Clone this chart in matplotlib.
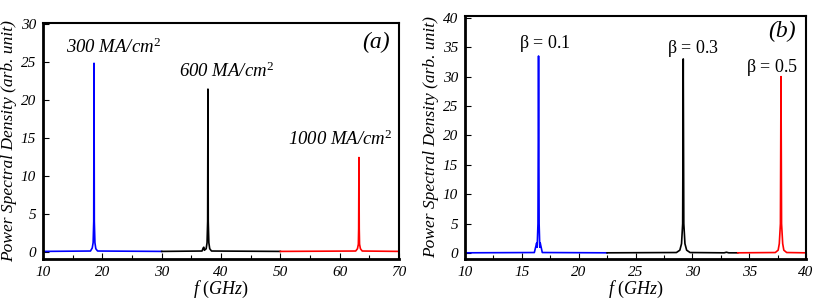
import matplotlib
matplotlib.use("Agg")
import matplotlib.pyplot as plt
from matplotlib.ticker import MultipleLocator

plt.rcParams['font.family'] = ['Liberation Serif', 'DejaVu Serif']
plt.rcParams['mathtext.fontset'] = 'custom'
plt.rcParams['mathtext.it'] = 'Liberation Serif:italic'
plt.rcParams['mathtext.rm'] = 'Liberation Serif'

# panel (a): current density series
a_blue_f = [10, 18.0, 18.3, 18.45, 18.55, 18.6, 18.65, 18.75, 18.9, 19.2, 30]
a_blue_p = [0.05, 0.1, 0.5, 1.2, 4.0, 24.8, 4.0, 1.2, 0.4, 0.1, 0.05]
a_black_f = [30, 36.8, 37.0, 37.1, 37.2, 37.5, 37.65, 37.75, 37.8, 37.85, 37.95, 38.1, 38.4, 50]
a_black_p = [0.05, 0.1, 0.5, 0.6, 0.2, 0.4, 1.2, 4.0, 21.4, 4.0, 1.2, 0.4, 0.1, 0.05]
a_red_f = [50, 62.7, 63.0, 63.15, 63.2, 63.25, 63.3, 63.35, 63.5, 63.8, 70]
a_red_p = [0.05, 0.1, 0.4, 1.0, 3.0, 12.4, 3.0, 1.0, 0.4, 0.1, 0.05]
a_labels = ['300 MA/cm$^2$', '600 MA/cm$^2$', '1000 MA/cm$^2$']

# panel (b): beta series
b_blue_f = [10, 16.1, 16.3, 16.35, 16.42, 16.47, 16.52, 16.58, 16.62, 16.8, 22.5]
b_blue_p = [0.05, 0.1, 1.7, 1.0, 5.0, 33.5, 5.0, 1.0, 1.7, 0.1, 0.05]
b_black_f = [22.5, 28.6, 28.9, 29.05, 29.15, 29.2, 29.25, 29.35, 29.5, 29.8, 32.8, 33.0, 33.2, 34]
b_black_p = [0.05, 0.1, 0.5, 1.6, 5.0, 33.0, 5.0, 1.6, 0.5, 0.1, 0.05, 0.15, 0.05, 0.05]
b_red_f = [34, 37.3, 37.55, 37.65, 37.75, 37.8, 37.85, 37.95, 38.05, 38.3, 40]
b_red_p = [0.05, 0.1, 0.5, 1.6, 5.0, 30.0, 5.0, 1.6, 0.5, 0.1, 0.05]
b_labels = [r'$\mathrm{\beta}$ = 0.1', r'$\mathrm{\beta}$ = 0.3', r'$\mathrm{\beta}$ = 0.5']

fig = plt.figure(figsize=(8.3, 3.03), dpi=100)
ax1 = fig.add_axes([43/830, 1-259/303, 356/830, 236/303])
ax2 = fig.add_axes([465/830, 1-259/303, 341/830, 243/303])


def style(ax):
    for s in ['left', 'bottom']:
        ax.spines[s].set_linewidth(2.0)
    for s in ['top', 'right']:
        ax.spines[s].set_linewidth(1.5)
    ax.tick_params(which='both', direction='in', top=False, right=False,
                   labelsize=11, pad=5)
    ax.tick_params(which='major', length=4, width=0.8)
    ax.tick_params(which='minor', length=3, width=0.8)
    for lab in ax.get_xticklabels() + ax.get_yticklabels():
        lab.set_fontstyle('italic')
    ax.set_xlabel('$f$ $\\it{(GHz)}$', fontsize=13, labelpad=0)
    ax.set_ylabel('Power Spectral Density (arb. unit)', fontsize=12.5,
                  fontstyle='italic', labelpad=3)


lw = 1.2
ax1.plot(a_blue_f, a_blue_p, color='#0000ff', lw=lw)
ax1.plot(a_black_f, a_black_p, color='black', lw=lw)
ax1.plot(a_red_f, a_red_p, color='#ff0000', lw=lw)
ax1.set_xlim(10, 70)
ax1.set_ylim(-0.95, 30.1)
ax1.xaxis.set_major_locator(MultipleLocator(10))
ax1.xaxis.set_minor_locator(MultipleLocator(5))
ax1.yaxis.set_major_locator(MultipleLocator(5))
style(ax1)
ax1.text(21.8, 26.1, a_labels[0], fontsize=13.5, style='italic', ha='center')
ax1.text(40.9, 23.0, a_labels[1], fontsize=13.5, style='italic', ha='center')
ax1.text(60.1, 14.0, a_labels[2], fontsize=13.5, style='italic', ha='center')
ax1.text(68.5, 26.8, '(a)', fontsize=17, style='italic', ha='right')

ax2.plot(b_blue_f, b_blue_p, color='#0000ff', lw=lw)
ax2.plot(b_black_f, b_black_p, color='black', lw=lw)
ax2.plot(b_red_f, b_red_p, color='#ff0000', lw=lw)
ax2.set_xlim(10, 40)
ax2.set_ylim(-1.0, 40.3)
ax2.xaxis.set_major_locator(MultipleLocator(5))
ax2.xaxis.set_minor_locator(MultipleLocator(2.5))
ax2.yaxis.set_major_locator(MultipleLocator(5))
style(ax2)
ax2.text(17.06, 34.9, b_labels[0], fontsize=13, ha='center')
ax2.text(30.04, 34.0, b_labels[1], fontsize=13, ha='center')
ax2.text(37.0, 30.8, b_labels[2], fontsize=13, ha='center')
ax2.text(39.07, 36.7, '(b)', fontsize=17, style='italic', ha='right')

fig.savefig('out.png', dpi=100)
